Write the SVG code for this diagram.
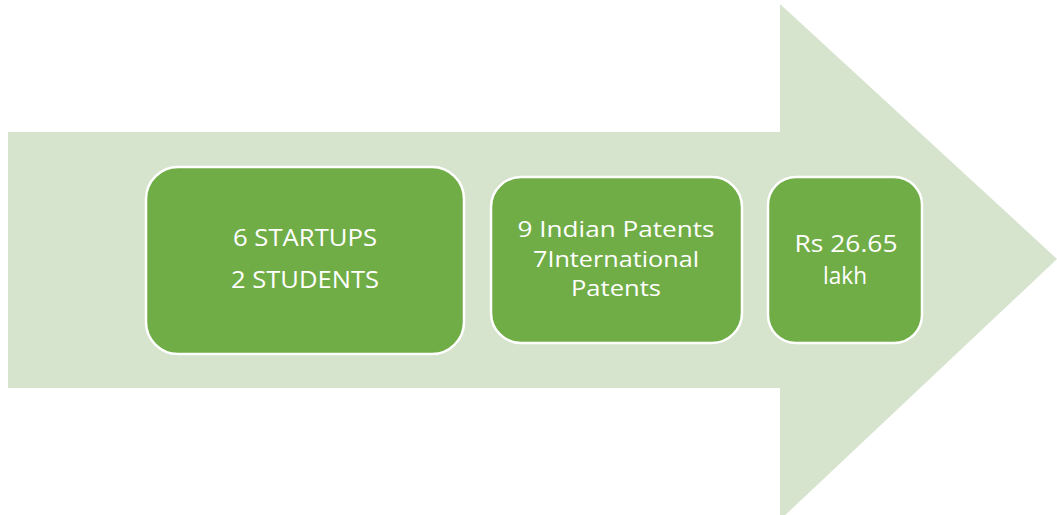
<svg xmlns="http://www.w3.org/2000/svg" width="1057" height="515" viewBox="0 0 1057 515">
<style>
.box{fill:#70AD47;stroke:#ffffff;stroke-width:2.5}
.t{font-family:"Open Sans","Noto Sans","Liberation Sans",sans-serif;font-size:23px;fill:#ffffff;text-anchor:middle}
.s{font-size:22px}
</style>
<rect width="1057" height="515" fill="#ffffff"/>
<g id="arrow">
<polygon points="8,132 780,132 780,4 1057,259 780,520 780,388 8,388" fill="#D6E3CD"/>
</g>
<g id="node1">
<rect class="box" x="146" y="167" width="318" height="187" rx="32"/>
<text class="t" x="305" y="246" textLength="144" lengthAdjust="spacingAndGlyphs">6 STARTUPS</text>
<text class="t" x="305" y="288" textLength="148" lengthAdjust="spacingAndGlyphs">2 STUDENTS</text>
</g>
<g id="node2">
<rect class="box" x="491" y="177" width="251" height="166" rx="30"/>
<text class="t s" x="616" y="237" textLength="197" lengthAdjust="spacingAndGlyphs">9 Indian Patents</text>
<text class="t s" x="616" y="266.5" textLength="166" lengthAdjust="spacingAndGlyphs">7International</text>
<text class="t s" x="616" y="296" textLength="90" lengthAdjust="spacingAndGlyphs">Patents</text>
</g>
<g id="node3">
<rect class="box" x="768" y="177" width="154" height="166" rx="28"/>
<text class="t" x="846" y="252" textLength="103" lengthAdjust="spacingAndGlyphs">Rs 26.65</text>
<text class="t" x="845" y="284" textLength="44" lengthAdjust="spacingAndGlyphs">lakh</text>
</g>
<g id="connectors"></g>
</svg>
